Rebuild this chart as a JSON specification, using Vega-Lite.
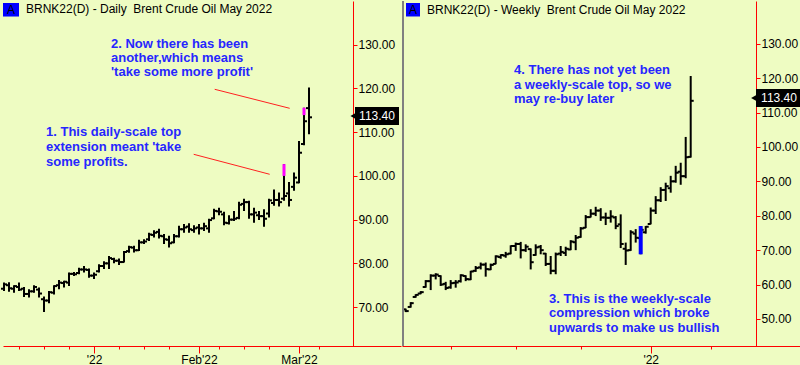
{
  "$schema": "https://vega.github.io/schema/vega-lite/v6.json",
  "padding": 0,
  "background": "#eefcc2",
  "spacing": 0,
  "config": {
    "view": {"stroke": null},
    "font": "Liberation Sans",
    "axis": {"domainColor": "#ff0000", "tickColor": "#ff0000", "domainWidth": 1, "tickWidth": 1,
      "labelFont": "Liberation Sans", "labelFontSize": 12, "labelColor": "#000000",
      "labelPadding": 1, "labelOverlap": false, "labelFlush": false, "labelBound": false, "grid": false}
  },
  "datasets": {
    "daily": [
      {"i":0,"o":74.2,"h":75.6,"l":73.7,"c":75.2},
      {"i":1,"o":75.0,"h":75.7,"l":73.5,"c":74.3},
      {"i":2,"o":74.2,"h":75.0,"l":73.3,"c":74.8},
      {"i":3,"o":74.6,"h":75.6,"l":73.7,"c":74.0},
      {"i":4,"o":74.2,"h":74.6,"l":72.3,"c":73.0},
      {"i":5,"o":73.0,"h":74.1,"l":72.2,"c":73.6},
      {"i":6,"o":73.6,"h":75.0,"l":73.3,"c":74.6},
      {"i":7,"o":74.0,"h":74.5,"l":72.2,"c":73.1},
      {"i":8,"o":71.8,"h":72.4,"l":68.9,"c":71.5},
      {"i":9,"o":71.5,"h":73.7,"l":70.9,"c":73.4},
      {"i":10,"o":73.3,"h":75.0,"l":72.9,"c":74.8},
      {"i":11,"o":75.0,"h":76.2,"l":74.1,"c":75.6},
      {"i":12,"o":75.5,"h":76.0,"l":74.5,"c":75.8},
      {"i":13,"o":75.6,"h":77.9,"l":74.8,"c":77.6},
      {"i":14,"o":77.6,"h":78.0,"l":77.1,"c":77.5},
      {"i":15,"o":77.8,"h":79.0,"l":77.5,"c":78.6},
      {"i":16,"o":78.6,"h":79.4,"l":77.9,"c":78.6},
      {"i":17,"o":78.5,"h":78.8,"l":76.7,"c":77.2},
      {"i":18,"o":77.2,"h":77.9,"l":76.4,"c":77.4},
      {"i":19,"o":78.2,"h":79.8,"l":77.9,"c":79.4},
      {"i":20,"o":79.4,"h":80.5,"l":78.7,"c":80.0},
      {"i":21,"o":80.0,"h":81.7,"l":78.7,"c":81.2},
      {"i":22,"o":81.0,"h":81.3,"l":80.0,"c":80.6},
      {"i":23,"o":80.6,"h":81.1,"l":79.6,"c":80.3},
      {"i":24,"o":80.3,"h":82.8,"l":80.2,"c":82.6},
      {"i":25,"o":82.8,"h":84.0,"l":82.4,"c":83.7},
      {"i":26,"o":83.6,"h":84.0,"l":82.5,"c":83.0},
      {"i":27,"o":83.0,"h":85.4,"l":82.8,"c":84.8},
      {"i":28,"o":84.8,"h":85.5,"l":84.4,"c":85.0},
      {"i":29,"o":85.5,"h":87.0,"l":85.1,"c":86.6},
      {"i":30,"o":86.5,"h":87.6,"l":85.9,"c":87.0},
      {"i":31,"o":87.2,"h":87.9,"l":85.7,"c":86.3},
      {"i":32,"o":86.2,"h":86.7,"l":84.4,"c":85.5},
      {"i":33,"o":85.4,"h":86.3,"l":83.6,"c":84.6},
      {"i":34,"o":84.8,"h":86.7,"l":84.6,"c":86.2},
      {"i":35,"o":86.2,"h":88.6,"l":85.9,"c":87.8},
      {"i":36,"o":87.8,"h":89.0,"l":87.0,"c":88.2},
      {"i":37,"o":88.4,"h":89.2,"l":87.0,"c":87.8},
      {"i":38,"o":87.6,"h":88.7,"l":87.0,"c":88.0},
      {"i":39,"o":88.2,"h":89.0,"l":86.6,"c":88.0},
      {"i":40,"o":88.0,"h":89.3,"l":87.4,"c":88.5},
      {"i":41,"o":88.0,"h":90.2,"l":87.0,"c":89.9},
      {"i":42,"o":90.3,"h":92.5,"l":90.1,"c":92.0},
      {"i":43,"o":91.9,"h":92.7,"l":91.0,"c":91.8},
      {"i":44,"o":91.2,"h":91.8,"l":88.7,"c":89.3},
      {"i":45,"o":89.2,"h":91.0,"l":88.9,"c":90.0},
      {"i":46,"o":90.0,"h":92.0,"l":89.7,"c":90.2},
      {"i":47,"o":90.4,"h":94.1,"l":90.1,"c":93.4},
      {"i":48,"o":93.6,"h":94.8,"l":92.0,"c":94.0},
      {"i":49,"o":94.0,"h":94.3,"l":90.2,"c":91.2},
      {"i":50,"o":91.2,"h":92.7,"l":89.3,"c":91.6},
      {"i":51,"o":91.0,"h":92.0,"l":89.9,"c":90.8},
      {"i":52,"o":90.8,"h":92.4,"l":88.4,"c":90.2},
      {"i":53,"o":91.4,"h":94.8,"l":90.5,"c":94.4},
      {"i":54,"o":93.8,"h":96.9,"l":93.2,"c":94.5},
      {"i":55,"o":94.5,"h":96.2,"l":93.0,"c":94.0},
      {"i":56,"o":94.8,"h":102.7,"l":94.3,"c":95.4},
      {"i":57,"o":96.0,"h":98.6,"l":93.0,"c":94.5},
      {"i":58,"o":97.5,"h":100.8,"l":96.6,"c":99.6},
      {"i":59,"o":98.5,"h":108.0,"l":98.3,"c":105.3},
      {"i":60,"o":107.3,"h":115.6,"l":107.0,"c":112.5},
      {"i":61,"o":115.5,"h":120.2,"l":109.5,"c":113.4}
    ],
    "weekly": [
      {"j":0,"o":52.8,"h":53.0,"l":52.0,"c":52.3},
      {"j":1,"o":53.5,"h":54.9,"l":53.3,"c":54.6},
      {"j":2,"o":56.4,"h":57.2,"l":56.2,"c":57.0},
      {"j":3,"o":57.4,"h":58.1,"l":57.2,"c":57.8},
      {"j":4,"o":59.3,"h":61.3,"l":59.1,"c":61.0},
      {"j":5,"o":61.0,"h":63.0,"l":58.4,"c":62.6},
      {"j":6,"o":62.6,"h":63.3,"l":61.5,"c":62.9},
      {"j":7,"o":62.5,"h":62.7,"l":59.6,"c":60.0},
      {"j":8,"o":60.2,"h":60.8,"l":58.4,"c":59.0},
      {"j":9,"o":59.2,"h":61.3,"l":58.8,"c":60.4},
      {"j":10,"o":60.5,"h":61.3,"l":59.1,"c":60.6},
      {"j":11,"o":61.0,"h":63.0,"l":60.6,"c":62.7},
      {"j":12,"o":62.5,"h":62.7,"l":61.0,"c":61.6},
      {"j":13,"o":61.5,"h":64.0,"l":61.3,"c":63.8},
      {"j":14,"o":64.0,"h":65.4,"l":63.7,"c":64.8},
      {"j":15,"o":65.0,"h":66.4,"l":64.4,"c":65.8},
      {"j":16,"o":65.8,"h":66.4,"l":62.3,"c":64.5},
      {"j":17,"o":64.4,"h":66.1,"l":64.2,"c":65.7},
      {"j":18,"o":66.0,"h":68.5,"l":65.9,"c":68.2},
      {"j":19,"o":68.0,"h":68.8,"l":67.5,"c":68.6},
      {"j":20,"o":68.4,"h":69.5,"l":67.8,"c":68.8},
      {"j":21,"o":69.0,"h":71.4,"l":68.8,"c":71.2},
      {"j":22,"o":71.2,"h":72.2,"l":69.8,"c":71.8},
      {"j":23,"o":71.8,"h":72.4,"l":67.6,"c":70.0},
      {"j":24,"o":70.0,"h":71.7,"l":69.5,"c":71.0},
      {"j":25,"o":70.3,"h":70.5,"l":64.4,"c":66.5},
      {"j":26,"o":68.6,"h":71.7,"l":68.4,"c":70.8},
      {"j":27,"o":71.0,"h":71.5,"l":68.8,"c":70.0},
      {"j":28,"o":69.0,"h":69.2,"l":65.4,"c":66.0},
      {"j":29,"o":66.0,"h":68.3,"l":63.0,"c":64.0},
      {"j":30,"o":64.0,"h":69.3,"l":63.0,"c":68.8},
      {"j":31,"o":69.0,"h":71.2,"l":68.3,"c":69.5},
      {"j":32,"o":69.2,"h":71.0,"l":68.3,"c":70.4},
      {"j":33,"o":70.2,"h":72.9,"l":70.0,"c":72.5},
      {"j":34,"o":72.3,"h":74.4,"l":70.0,"c":73.6},
      {"j":35,"o":73.8,"h":76.7,"l":73.6,"c":76.3},
      {"j":36,"o":76.5,"h":80.2,"l":76.4,"c":79.6},
      {"j":37,"o":79.6,"h":81.9,"l":79.5,"c":80.6},
      {"j":38,"o":80.6,"h":82.6,"l":79.9,"c":81.5},
      {"j":39,"o":81.5,"h":82.2,"l":78.5,"c":79.5},
      {"j":40,"o":79.5,"h":80.9,"l":77.3,"c":79.4},
      {"j":41,"o":79.4,"h":81.6,"l":78.0,"c":79.8},
      {"j":42,"o":79.5,"h":79.9,"l":76.1,"c":77.0},
      {"j":43,"o":77.5,"h":80.4,"l":70.6,"c":71.8},
      {"j":44,"o":70.4,"h":72.2,"l":65.7,"c":69.9},
      {"j":45,"o":70.0,"h":75.8,"l":69.8,"c":75.2},
      {"j":46,"o":74.8,"h":76.1,"l":72.2,"c":73.6},
      {"j":47,"o":73.5,"h":77.0,"l":68.8,"c":75.9},
      {"j":48,"o":75.2,"h":77.0,"l":74.8,"c":76.8},
      {"j":49,"o":77.6,"h":82.4,"l":77.5,"c":81.5},
      {"j":50,"o":81.5,"h":85.7,"l":80.5,"c":84.5},
      {"j":51,"o":84.5,"h":88.3,"l":84.0,"c":87.5},
      {"j":52,"o":87.5,"h":89.6,"l":84.3,"c":88.6},
      {"j":53,"o":88.0,"h":91.6,"l":86.7,"c":90.0},
      {"j":54,"o":90.0,"h":94.5,"l":89.6,"c":92.5},
      {"j":55,"o":92.8,"h":95.4,"l":89.0,"c":91.5},
      {"j":56,"o":91.5,"h":102.9,"l":90.9,"c":97.0},
      {"j":57,"o":97.1,"h":120.6,"l":96.9,"c":113.4}
    ],
    "dailyMarks": [
      {"i":56,"lo":100.0,"hi":102.7},
      {"i":60,"lo":113.9,"hi":115.6}
    ],
    "weeklyMarks": [
      {"j":47,"lo":68.8,"hi":77.0}
    ]
  },
  "hconcat": [
    {
      "width": 398,
      "height": 345,
      "layer": [
        {
          "data": {"name": "daily"},
          "mark": {"type": "rule", "color": "#000000", "strokeWidth": 2},
          "encoding": {
            "x": {"field": "i", "type": "quantitative",
              "scale": {"domain": [-0.2, 79.4], "nice": false, "zero": false},
              "axis": {"title": null, "values": [3,8,13,18,23,28,33,39,43,48,53,59,63], "labelExpr": "datum.value == 18 ? \"'22\" : (datum.value == 39 ? \"Feb'22\" : (datum.value == 59 ? \"Mar'22\" : ''))", "tickSize": {"condition": {"test": "indexof([18,39,59], datum.value) >= 0", "value": 7}, "value": 3}}},
            "y": {"field": "l", "type": "quantitative",
              "scale": {"domain": [61.1, 140], "nice": false, "zero": false},
              "axis": {"title": null, "orient": "right", "offset": -48, "values": [70,80,90,100,110,120,130], "format": ".2f", "tickSize": 4}},
            "y2": {"field": "h"}
          }
        },
        {
          "data": {"name": "daily"},
          "mark": {"type": "rule", "color": "#000000", "strokeWidth": 2, "xOffset": -3},
          "encoding": {
            "x": {"field": "i", "type": "quantitative", "axis": {"title": null, "values": [3,8,13,18,23,28,33,39,43,48,53,59,63], "labelExpr": "datum.value == 18 ? \"'22\" : (datum.value == 39 ? \"Feb'22\" : (datum.value == 59 ? \"Mar'22\" : ''))", "tickSize": {"condition": {"test": "indexof([18,39,59], datum.value) >= 0", "value": 7}, "value": 3}}},
            "x2": {"field": "i"},
            "y": {"field": "o", "type": "quantitative", "axis": {"title": null, "orient": "right", "offset": -48, "values": [70,80,90,100,110,120,130], "format": ".2f", "tickSize": 4}}
          }
        },
        {
          "data": {"name": "daily"},
          "mark": {"type": "rule", "color": "#000000", "strokeWidth": 2, "x2Offset": 3},
          "encoding": {
            "x": {"field": "i", "type": "quantitative", "axis": {"title": null, "values": [3,8,13,18,23,28,33,39,43,48,53,59,63], "labelExpr": "datum.value == 18 ? \"'22\" : (datum.value == 39 ? \"Feb'22\" : (datum.value == 59 ? \"Mar'22\" : ''))", "tickSize": {"condition": {"test": "indexof([18,39,59], datum.value) >= 0", "value": 7}, "value": 3}}},
            "x2": {"field": "i"},
            "y": {"field": "c", "type": "quantitative", "axis": {"title": null, "orient": "right", "offset": -48, "values": [70,80,90,100,110,120,130], "format": ".2f", "tickSize": 4}}
          }
        },
        {
          "data": {"name": "dailyMarks"},
          "mark": {"type": "rule", "color": "#ff00ff", "strokeWidth": 3},
          "encoding": {
            "x": {"field": "i", "type": "quantitative", "axis": {"title": null, "values": [3,8,13,18,23,28,33,39,43,48,53,59,63], "labelExpr": "datum.value == 18 ? \"'22\" : (datum.value == 39 ? \"Feb'22\" : (datum.value == 59 ? \"Mar'22\" : ''))", "tickSize": {"condition": {"test": "indexof([18,39,59], datum.value) >= 0", "value": 7}, "value": 3}}},
            "y": {"field": "lo", "type": "quantitative", "axis": {"title": null, "orient": "right", "offset": -48, "values": [70,80,90,100,110,120,130], "format": ".2f", "tickSize": 4}},
            "y2": {"field": "hi"}
          }
        },
        {
          "data": {"values": [{}]},
          "mark": {"type": "rule", "color": "#ff2020", "strokeWidth": 1},
          "encoding": {
            "x": {"datum": 42.14, "axis": {"title": null, "values": [3,8,13,18,23,28,33,39,43,48,53,59,63], "labelExpr": "datum.value == 18 ? \"'22\" : (datum.value == 39 ? \"Feb'22\" : (datum.value == 59 ? \"Mar'22\" : ''))", "tickSize": {"condition": {"test": "indexof([18,39,59], datum.value) >= 0", "value": 7}, "value": 3}}},
            "y": {"datum": 119.81, "axis": {"title": null, "orient": "right", "offset": -48, "values": [70,80,90,100,110,120,130], "format": ".2f", "tickSize": 4}},
            "x2": {"datum": 57.14}, "y2": {"datum": 115.46}
          }
        },
        {
          "data": {"values": [{}]},
          "mark": {"type": "rule", "color": "#ff2020", "strokeWidth": 1},
          "encoding": {
            "x": {"datum": 37.94, "axis": {"title": null, "values": [3,8,13,18,23,28,33,39,43,48,53,59,63], "labelExpr": "datum.value == 18 ? \"'22\" : (datum.value == 39 ? \"Feb'22\" : (datum.value == 59 ? \"Mar'22\" : ''))", "tickSize": {"condition": {"test": "indexof([18,39,59], datum.value) >= 0", "value": 7}, "value": 3}}},
            "y": {"datum": 104.94, "axis": {"title": null, "orient": "right", "offset": -48, "values": [70,80,90,100,110,120,130], "format": ".2f", "tickSize": 4}},
            "x2": {"datum": 53.14}, "y2": {"datum": 100.37}
          }
        },
        {
          "data": {"values": [{}]},
          "mark": {"type": "text", "align": "left", "baseline": "middle", "font": "Liberation Sans", "fontSize": 13, "fontWeight": "bold", "color": "#2626ff", "lineHeight": 14},
          "encoding": {
            "x": {"datum": 21.4, "axis": {"title": null, "values": [3,8,13,18,23,28,33,39,43,48,53,59,63], "labelExpr": "datum.value == 18 ? \"'22\" : (datum.value == 39 ? \"Feb'22\" : (datum.value == 59 ? \"Mar'22\" : ''))", "tickSize": {"condition": {"test": "indexof([18,39,59], datum.value) >= 0", "value": 7}, "value": 3}}},
            "y": {"datum": 130.1, "axis": {"title": null, "orient": "right", "offset": -48, "values": [70,80,90,100,110,120,130], "format": ".2f", "tickSize": 4}},
            "text": {"value": ["2. Now there has been", "another,which means", "'take some more profit'"]}
          }
        },
        {
          "data": {"values": [{}]},
          "mark": {"type": "text", "align": "left", "baseline": "middle", "font": "Liberation Sans", "fontSize": 13, "fontWeight": "bold", "color": "#2626ff", "lineHeight": 15},
          "encoding": {
            "x": {"datum": 8.4, "axis": {"title": null, "values": [3,8,13,18,23,28,33,39,43,48,53,59,63], "labelExpr": "datum.value == 18 ? \"'22\" : (datum.value == 39 ? \"Feb'22\" : (datum.value == 59 ? \"Mar'22\" : ''))", "tickSize": {"condition": {"test": "indexof([18,39,59], datum.value) >= 0", "value": 7}, "value": 3}}},
            "y": {"datum": 110.11, "axis": {"title": null, "orient": "right", "offset": -48, "values": [70,80,90,100,110,120,130], "format": ".2f", "tickSize": 4}},
            "text": {"value": ["1. This daily-scale top", "extension meant 'take", "some profits."]}
          }
        },
        {
          "data": {"values": [{}]},
          "mark": {"type": "rect", "color": "#0000ff"},
          "encoding": {
            "x": {"datum": -0.2, "axis": {"title": null, "values": [3,8,13,18,23,28,33,39,43,48,53,59,63], "labelExpr": "datum.value == 18 ? \"'22\" : (datum.value == 39 ? \"Feb'22\" : (datum.value == 59 ? \"Mar'22\" : ''))", "tickSize": {"condition": {"test": "indexof([18,39,59], datum.value) >= 0", "value": 7}, "value": 3}}},
            "x2": {"datum": 3.0},
            "y": {"datum": 139.54, "axis": {"title": null, "orient": "right", "offset": -48, "values": [70,80,90,100,110,120,130], "format": ".2f", "tickSize": 4}},
            "y2": {"datum": 136.45}
          }
        },
        {
          "data": {"values": [{}]},
          "mark": {"type": "text", "align": "center", "baseline": "middle", "font": "Liberation Sans", "fontSize": 12, "color": "#000000"},
          "encoding": {
            "x": {"datum": 1.4, "axis": {"title": null, "values": [3,8,13,18,23,28,33,39,43,48,53,59,63], "labelExpr": "datum.value == 18 ? \"'22\" : (datum.value == 39 ? \"Feb'22\" : (datum.value == 59 ? \"Mar'22\" : ''))", "tickSize": {"condition": {"test": "indexof([18,39,59], datum.value) >= 0", "value": 7}, "value": 3}}},
            "y": {"datum": 138.0, "axis": {"title": null, "orient": "right", "offset": -48, "values": [70,80,90,100,110,120,130], "format": ".2f", "tickSize": 4}},
            "text": {"value": "A"}
          }
        },
        {
          "data": {"values": [{}]},
          "mark": {"type": "text", "align": "left", "baseline": "middle", "font": "Liberation Sans", "fontSize": 12, "color": "#000000"},
          "encoding": {
            "x": {"datum": 4.4, "axis": {"title": null, "values": [3,8,13,18,23,28,33,39,43,48,53,59,63], "labelExpr": "datum.value == 18 ? \"'22\" : (datum.value == 39 ? \"Feb'22\" : (datum.value == 59 ? \"Mar'22\" : ''))", "tickSize": {"condition": {"test": "indexof([18,39,59], datum.value) >= 0", "value": 7}, "value": 3}}},
            "y": {"datum": 138.06, "axis": {"title": null, "orient": "right", "offset": -48, "values": [70,80,90,100,110,120,130], "format": ".2f", "tickSize": 4}},
            "text": {"value": "BRNK22(D) - Daily \u00a0Brent Crude Oil May 2022"}
          }
        },
        {
          "data": {"values": [{}]},
          "mark": {"type": "rect", "color": "#000000"},
          "encoding": {
            "x": {"datum": 70.2, "axis": {"title": null, "values": [3,8,13,18,23,28,33,39,43,48,53,59,63], "labelExpr": "datum.value == 18 ? \"'22\" : (datum.value == 39 ? \"Feb'22\" : (datum.value == 59 ? \"Mar'22\" : ''))", "tickSize": {"condition": {"test": "indexof([18,39,59], datum.value) >= 0", "value": 7}, "value": 3}}},
            "x2": {"datum": 79.0},
            "y": {"datum": 111.64, "axis": {"title": null, "orient": "right", "offset": -48, "values": [70,80,90,100,110,120,130], "format": ".2f", "tickSize": 4}},
            "y2": {"datum": 115.76}
          }
        },
        {
          "data": {"values": [{}]},
          "mark": {"type": "point", "shape": "triangle-left", "filled": true, "color": "#000000", "size": 50, "opacity": 1},
          "encoding": {
            "x": {"datum": 69.9, "axis": {"title": null, "values": [3,8,13,18,23,28,33,39,43,48,53,59,63], "labelExpr": "datum.value == 18 ? \"'22\" : (datum.value == 39 ? \"Feb'22\" : (datum.value == 59 ? \"Mar'22\" : ''))", "tickSize": {"condition": {"test": "indexof([18,39,59], datum.value) >= 0", "value": 7}, "value": 3}}},
            "y": {"datum": 113.7, "axis": {"title": null, "orient": "right", "offset": -48, "values": [70,80,90,100,110,120,130], "format": ".2f", "tickSize": 4}}
          }
        },
        {
          "data": {"values": [{}]},
          "mark": {"type": "text", "align": "center", "baseline": "middle", "font": "Liberation Sans", "fontSize": 12, "color": "#ffffff"},
          "encoding": {
            "x": {"datum": 74.6, "axis": {"title": null, "values": [3,8,13,18,23,28,33,39,43,48,53,59,63], "labelExpr": "datum.value == 18 ? \"'22\" : (datum.value == 39 ? \"Feb'22\" : (datum.value == 59 ? \"Mar'22\" : ''))", "tickSize": {"condition": {"test": "indexof([18,39,59], datum.value) >= 0", "value": 7}, "value": 3}}},
            "y": {"datum": 113.7, "axis": {"title": null, "orient": "right", "offset": -48, "values": [70,80,90,100,110,120,130], "format": ".2f", "tickSize": 4}},
            "text": {"value": "113.40"}
          }
        }
      ]
    },
    {
      "width": 402,
      "height": 345,
      "layer": [
        {
          "data": {"name": "weekly"},
          "mark": {"type": "rule", "color": "#000000", "strokeWidth": 2},
          "encoding": {
            "x": {"field": "j", "type": "quantitative",
              "scale": {"domain": [-0.74, 79.66], "nice": false, "zero": false},
              "axis": {"title": null, "values": [9,22,35,49,61], "labelExpr": "datum.value == 49 ? \"'22\" : ''", "tickSize": {"condition": {"test": "datum.value == 49", "value": 7}, "value": 3}}},
            "y": {"field": "l", "type": "quantitative",
              "scale": {"domain": [42.15, 142.4], "nice": false, "zero": false},
              "axis": {"title": null, "orient": "right", "offset": -48, "values": [50,60,70,80,90,100,110,120,130], "format": ".2f", "tickSize": 4}},
            "y2": {"field": "h"}
          }
        },
        {
          "data": {"name": "weekly"},
          "mark": {"type": "rule", "color": "#000000", "strokeWidth": 2, "xOffset": -3},
          "encoding": {
            "x": {"field": "j", "type": "quantitative", "axis": {"title": null, "values": [9,22,35,49,61], "labelExpr": "datum.value == 49 ? \"'22\" : ''", "tickSize": {"condition": {"test": "datum.value == 49", "value": 7}, "value": 3}}},
            "x2": {"field": "j"},
            "y": {"field": "o", "type": "quantitative", "axis": {"title": null, "orient": "right", "offset": -48, "values": [50,60,70,80,90,100,110,120,130], "format": ".2f", "tickSize": 4}}
          }
        },
        {
          "data": {"name": "weekly"},
          "mark": {"type": "rule", "color": "#000000", "strokeWidth": 2, "x2Offset": 3},
          "encoding": {
            "x": {"field": "j", "type": "quantitative", "axis": {"title": null, "values": [9,22,35,49,61], "labelExpr": "datum.value == 49 ? \"'22\" : ''", "tickSize": {"condition": {"test": "datum.value == 49", "value": 7}, "value": 3}}},
            "x2": {"field": "j"},
            "y": {"field": "c", "type": "quantitative", "axis": {"title": null, "orient": "right", "offset": -48, "values": [50,60,70,80,90,100,110,120,130], "format": ".2f", "tickSize": 4}}
          }
        },
        {
          "data": {"name": "weeklyMarks"},
          "mark": {"type": "rule", "color": "#0000ff", "strokeWidth": 4},
          "encoding": {
            "x": {"field": "j", "type": "quantitative", "axis": {"title": null, "values": [9,22,35,49,61], "labelExpr": "datum.value == 49 ? \"'22\" : ''", "tickSize": {"condition": {"test": "datum.value == 49", "value": 7}, "value": 3}}},
            "y": {"field": "lo", "type": "quantitative", "axis": {"title": null, "orient": "right", "offset": -48, "values": [50,60,70,80,90,100,110,120,130], "format": ".2f", "tickSize": 4}},
            "y2": {"field": "hi"}
          }
        },
        {
          "data": {"values": [{}]},
          "mark": {"type": "rule", "color": "#808080", "strokeWidth": 2},
          "encoding": {
            "x": {"datum": -0.54, "axis": {"title": null, "values": [9,22,35,49,61], "labelExpr": "datum.value == 49 ? \"'22\" : ''", "tickSize": {"condition": {"test": "datum.value == 49", "value": 7}, "value": 3}}}
          }
        },
        {
          "data": {"values": [{}]},
          "mark": {"type": "text", "align": "left", "baseline": "middle", "font": "Liberation Sans", "fontSize": 13, "fontWeight": "bold", "color": "#2626ff", "lineHeight": 14.5},
          "encoding": {
            "x": {"datum": 21.66, "axis": {"title": null, "values": [9,22,35,49,61], "labelExpr": "datum.value == 49 ? \"'22\" : ''", "tickSize": {"condition": {"test": "datum.value == 49", "value": 7}, "value": 3}}},
            "y": {"datum": 122.35, "axis": {"title": null, "orient": "right", "offset": -48, "values": [50,60,70,80,90,100,110,120,130], "format": ".2f", "tickSize": 4}},
            "text": {"value": ["4. There has not yet been", "a weekly-scale top, so we", "may re-buy later"]}
          }
        },
        {
          "data": {"values": [{}]},
          "mark": {"type": "text", "align": "left", "baseline": "middle", "font": "Liberation Sans", "fontSize": 13, "fontWeight": "bold", "color": "#2626ff", "lineHeight": 14.5},
          "encoding": {
            "x": {"datum": 28.66, "axis": {"title": null, "values": [9,22,35,49,61], "labelExpr": "datum.value == 49 ? \"'22\" : ''", "tickSize": {"condition": {"test": "datum.value == 49", "value": 7}, "value": 3}}},
            "y": {"datum": 55.81, "axis": {"title": null, "orient": "right", "offset": -48, "values": [50,60,70,80,90,100,110,120,130], "format": ".2f", "tickSize": 4}},
            "text": {"value": ["3. This is the weekly-scale", "compression which broke", "upwards to make us bullish"]}
          }
        },
        {
          "data": {"values": [{}]},
          "mark": {"type": "rect", "color": "#0000ff"},
          "encoding": {
            "x": {"datum": 0.06, "axis": {"title": null, "values": [9,22,35,49,61], "labelExpr": "datum.value == 49 ? \"'22\" : ''", "tickSize": {"condition": {"test": "datum.value == 49", "value": 7}, "value": 3}}},
            "x2": {"datum": 2.86},
            "y": {"datum": 141.82, "axis": {"title": null, "orient": "right", "offset": -48, "values": [50,60,70,80,90,100,110,120,130], "format": ".2f", "tickSize": 4}},
            "y2": {"datum": 137.9}
          }
        },
        {
          "data": {"values": [{}]},
          "mark": {"type": "text", "align": "center", "baseline": "middle", "font": "Liberation Sans", "fontSize": 12, "color": "#000000"},
          "encoding": {
            "x": {"datum": 1.46, "axis": {"title": null, "values": [9,22,35,49,61], "labelExpr": "datum.value == 49 ? \"'22\" : ''", "tickSize": {"condition": {"test": "datum.value == 49", "value": 7}, "value": 3}}},
            "y": {"datum": 139.9, "axis": {"title": null, "orient": "right", "offset": -48, "values": [50,60,70,80,90,100,110,120,130], "format": ".2f", "tickSize": 4}},
            "text": {"value": "A"}
          }
        },
        {
          "data": {"values": [{}]},
          "mark": {"type": "text", "align": "left", "baseline": "middle", "font": "Liberation Sans", "fontSize": 12, "color": "#000000"},
          "encoding": {
            "x": {"datum": 4.26, "axis": {"title": null, "values": [9,22,35,49,61], "labelExpr": "datum.value == 49 ? \"'22\" : ''", "tickSize": {"condition": {"test": "datum.value == 49", "value": 7}, "value": 3}}},
            "y": {"datum": 139.93, "axis": {"title": null, "orient": "right", "offset": -48, "values": [50,60,70,80,90,100,110,120,130], "format": ".2f", "tickSize": 4}},
            "text": {"value": "BRNK22(D) - Weekly \u00a0Brent Crude Oil May 2022"}
          }
        },
        {
          "data": {"values": [{}]},
          "mark": {"type": "rect", "color": "#000000"},
          "encoding": {
            "x": {"datum": 70.06, "axis": {"title": null, "values": [9,22,35,49,61], "labelExpr": "datum.value == 49 ? \"'22\" : ''", "tickSize": {"condition": {"test": "datum.value == 49", "value": 7}, "value": 3}}},
            "x2": {"datum": 79.26},
            "y": {"datum": 111.6, "axis": {"title": null, "orient": "right", "offset": -48, "values": [50,60,70,80,90,100,110,120,130], "format": ".2f", "tickSize": 4}},
            "y2": {"datum": 116.83}
          }
        },
        {
          "data": {"values": [{}]},
          "mark": {"type": "point", "shape": "triangle-left", "filled": true, "color": "#000000", "size": 50, "opacity": 1},
          "encoding": {
            "x": {"datum": 69.7, "axis": {"title": null, "values": [9,22,35,49,61], "labelExpr": "datum.value == 49 ? \"'22\" : ''", "tickSize": {"condition": {"test": "datum.value == 49", "value": 7}, "value": 3}}},
            "y": {"datum": 114.2, "axis": {"title": null, "orient": "right", "offset": -48, "values": [50,60,70,80,90,100,110,120,130], "format": ".2f", "tickSize": 4}}
          }
        },
        {
          "data": {"values": [{}]},
          "mark": {"type": "text", "align": "center", "baseline": "middle", "font": "Liberation Sans", "fontSize": 12, "color": "#ffffff"},
          "encoding": {
            "x": {"datum": 74.66, "axis": {"title": null, "values": [9,22,35,49,61], "labelExpr": "datum.value == 49 ? \"'22\" : ''", "tickSize": {"condition": {"test": "datum.value == 49", "value": 7}, "value": 3}}},
            "y": {"datum": 114.2, "axis": {"title": null, "orient": "right", "offset": -48, "values": [50,60,70,80,90,100,110,120,130], "format": ".2f", "tickSize": 4}},
            "text": {"value": "113.40"}
          }
        }
      ]
    }
  ]
}
